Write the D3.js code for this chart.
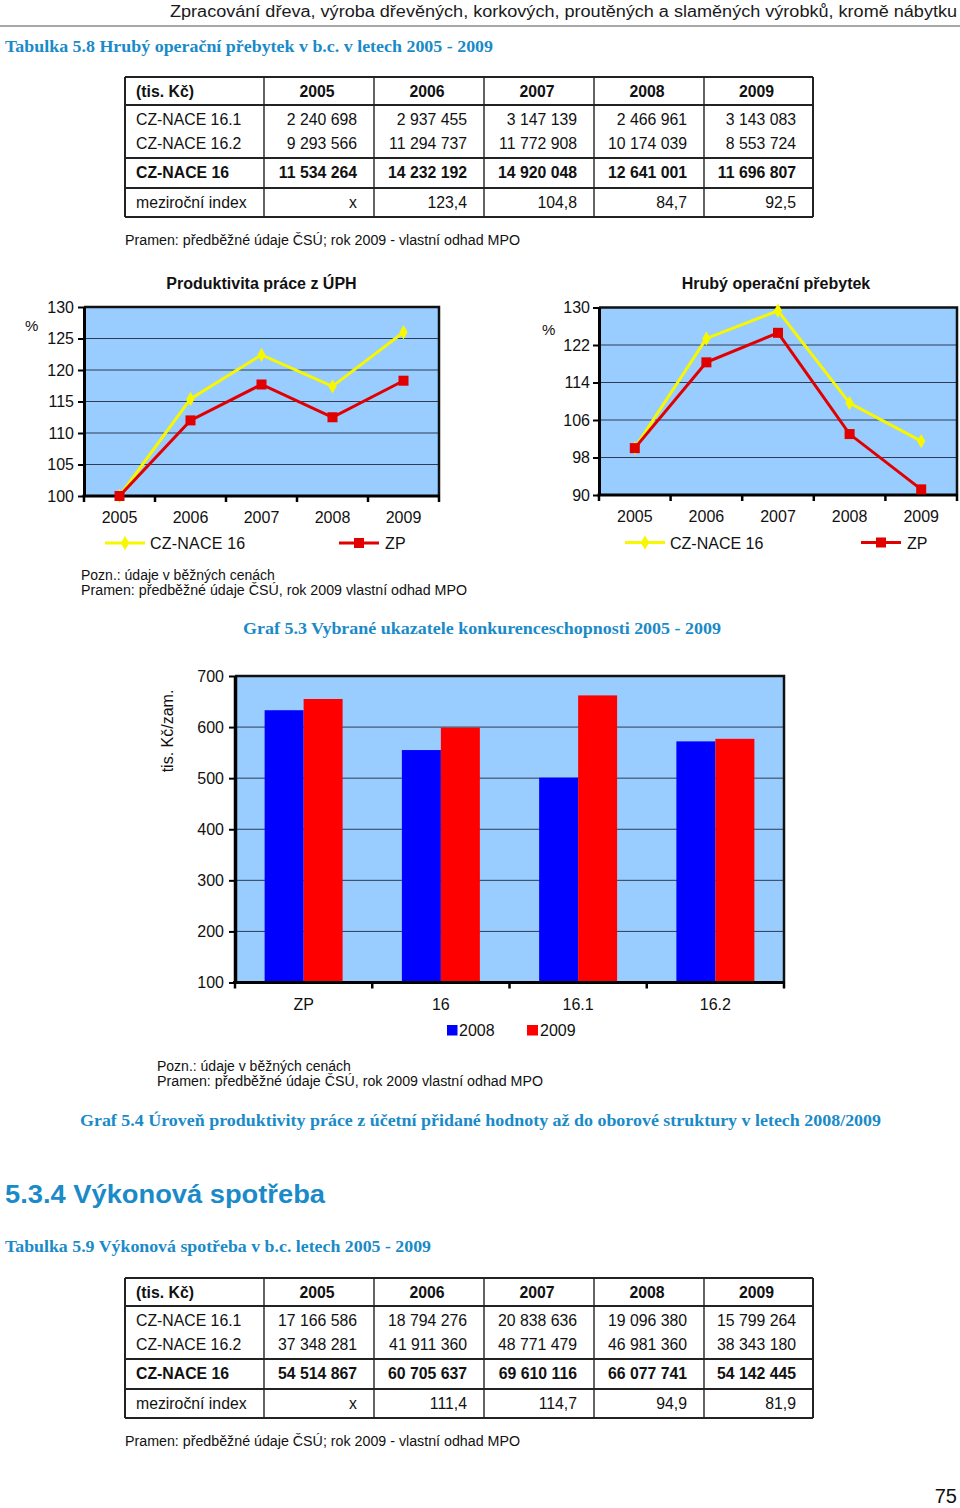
<!DOCTYPE html>
<html><head><meta charset="utf-8">
<script src="https://cdn.jsdelivr.net/npm/d3@7"></script>
<style>body{margin:0;background:#fff}svg{display:block}</style>
</head><body><svg id="c" width="960" height="1508"></svg>
<script>
// ---------- DATA ----------
const years = ["2005","2006","2007","2008","2009"];
const rowLabels = ["CZ-NACE 16.1","CZ-NACE 16.2","CZ-NACE 16","meziroční index"];
const t1_161 = ["2 240 698","2 937 455","3 147 139","2 466 961","3 143 083"];
const t1_162 = ["9 293 566","11 294 737","11 772 908","10 174 039","8 553 724"];
const t1_16  = ["11 534 264","14 232 192","14 920 048","12 641 001","11 696 807"];
const t1_idx = ["x","123,4","104,8","84,7","92,5"];
const t2_161 = ["17 166 586","18 794 276","20 838 636","19 096 380","15 799 264"];
const t2_162 = ["37 348 281","41 911 360","48 771 479","46 981 360","38 343 180"];
const t2_16  = ["54 514 867","60 705 637","69 610 116","66 077 741","54 142 445"];
const t2_idx = ["x","111,4","114,7","94,9","81,9"];

const prodNace = [100, 115.4, 122.4, 117.4, 126.0];
const prodZP   = [100, 112.0, 117.7, 112.5, 118.3];
const prodTicks = [100,105,110,115,120,125,130];
const hopNace = [100, 123.4, 129.3, 109.6, 101.5];
const hopZP   = [100, 118.3, 124.6, 103.0, 91.2];
const hopTicks = [90,98,106,114,122,130];
const seriesNames = ["CZ-NACE 16","ZP"];

const barCats = ["ZP","16","16.1","16.2"];
const barYears = ["2008","2009"];
const bar2008 = [633, 555, 501, 572];
const bar2009 = [655, 599, 662, 577];
const barTicks = [100,200,300,400,500,600,700];

// ---------- STYLE ----------
const SANS = "'Liberation Sans', Arial, Helvetica, sans-serif";
const SERIF = "'Liberation Serif', 'Times New Roman', serif";
const TEAL = "#1a8ac8";
const PLOTBG = "#99ccff";
const GRID = "#2e3c55";
const YEL = "#f7f700";
const RED = "#e00000";
const FS = 16;   // chart text size
const TS = 15.8; // table text size

const svg = d3.select("#c");

function txt(x, y, s, o = {}) {
  const t = svg.append("text").attr("x", x).attr("y", y).text(s)
    .attr("font-family", o.family || SANS)
    .attr("font-size", o.size || 14)
    .attr("fill", o.fill || "#111")
    .attr("text-anchor", o.anchor || "start");
  if (o.weight) t.attr("font-weight", o.weight);
  if (o.len) t.attr("textLength", o.len).attr("lengthAdjust", "spacingAndGlyphs");
  if (o.ls) t.attr("letter-spacing", o.ls);
  return t;
}

// ---------- HEADER ----------
txt(957, 17, "Zpracování dřeva, výroba dřevěných, korkových, proutěných a slaměných výrobků, kromě nábytku",
  {size: 16, anchor: "end", len: 787, fill: "#1a1a1a"});
svg.append("line").attr("x1", 0).attr("x2", 960).attr("y1", 26).attr("y2", 26)
  .attr("stroke", "#8a8a8a").attr("stroke-width", 1.6);

txt(5, 52, "Tabulka 5.8 Hrubý operační přebytek v b.c. v letech 2005 - 2009",
  {family: SERIF, size: 17, weight: "bold", fill: TEAL, len: 488});

// ---------- TABLES ----------
const colX = [125, 264, 374, 484, 594, 704, 813];
function drawTable(top, r161, r162, r16, ridx) {
  const rows = [0, 28, 81, 111, 140];
  const g = svg.append("g");
  rows.forEach(r => g.append("line").attr("x1", colX[0]).attr("x2", colX[6])
    .attr("y1", top + r).attr("y2", top + r).attr("stroke", "#222").attr("stroke-width", 2));
  colX.forEach((c, i) => g.append("line").attr("x1", c).attr("x2", c)
    .attr("y1", top).attr("y2", top + 140).attr("stroke", "#222")
    .attr("stroke-width", (i === 0 || i === 6) ? 2 : 1.4));
  const lx = 136;
  txt(lx, top + 20, "(tis. Kč)", {weight: "bold", size: TS});
  txt(lx, top + 48, rowLabels[0], {size: TS});
  txt(lx, top + 72, rowLabels[1], {size: TS});
  txt(lx, top + 101, rowLabels[2], {size: TS, weight: "bold"});
  txt(lx, top + 131, rowLabels[3], {size: TS});
  years.forEach((y, i) => {
    const cx = (colX[i + 1] + colX[i + 2]) / 2 - 2;
    const rx = colX[i + 2] - 17;
    txt(cx, top + 20, y, {anchor: "middle", weight: "bold", size: TS});
    txt(rx, top + 48, r161[i], {anchor: "end", size: TS});
    txt(rx, top + 72, r162[i], {anchor: "end", size: TS});
    txt(rx, top + 101, r16[i], {anchor: "end", size: TS, weight: "bold"});
    txt(rx, top + 131, ridx[i], {anchor: "end", size: TS});
  });
}
drawTable(77, t1_161, t1_162, t1_16, t1_idx);
txt(125, 245, "Pramen: předběžné údaje ČSÚ; rok 2009 - vlastní odhad MPO", {size: 14, len: 395});

// ---------- LINE CHARTS ----------
function lineChart(o) {
  const x = d3.scaleBand().domain(years).range([o.x0, o.x1]).padding(0);
  const y = d3.scaleLinear().domain(o.domain).range([o.y1, o.y0]);
  const g = svg.append("g");
  g.append("rect").attr("x", o.x0).attr("y", o.y0).attr("width", o.x1 - o.x0).attr("height", o.y1 - o.y0)
    .attr("fill", PLOTBG);
  g.selectAll(".gl").data(o.ticks.slice(1, -1)).join("line")
    .attr("x1", o.x0).attr("x2", o.x1).attr("y1", d => y(d)).attr("y2", d => y(d))
    .attr("stroke", GRID).attr("stroke-width", 1);
  g.append("path").attr("d", `M${o.x0},${o.y0}H${o.x1}V${o.y1}`).attr("fill", "none")
    .attr("stroke", "#111").attr("stroke-width", 2.5);
  const ya = g.append("g").attr("transform", `translate(${o.x0},0)`)
    .call(d3.axisLeft(y).tickValues(o.ticks).tickSize(6).tickPadding(o.pad).tickSizeOuter(0));
  ya.select(".domain").attr("stroke", "#000").attr("stroke-width", 3);
  ya.selectAll(".tick line").attr("stroke", "#000").attr("stroke-width", 2);
  ya.selectAll(".tick text").attr("font-family", SANS).attr("font-size", FS).attr("fill", "#111");
  g.append("line").attr("x1", o.x0 - 1.5).attr("x2", o.x1 + 1).attr("y1", o.y1).attr("y2", o.y1)
    .attr("stroke", "#000").attr("stroke-width", 3);
  const edges = years.map(d => x(d)).concat([o.x1]);
  g.selectAll(".xt").data(edges).join("line")
    .attr("x1", d => d).attr("x2", d => d).attr("y1", o.y1).attr("y2", o.y1 + 6)
    .attr("stroke", "#000").attr("stroke-width", 2.5);
  years.forEach(d => txt(x(d) + x.bandwidth() / 2, o.xlabY, d, {anchor: "middle", size: FS}));
  const cx = (d, i) => x(years[i]) + x.bandwidth() / 2;
  const line = d3.line().x(cx).y(d => y(d));
  g.append("path").datum(o.nace).attr("d", line).attr("fill", "none").attr("stroke", YEL).attr("stroke-width", 3);
  g.append("path").datum(o.zp).attr("d", line).attr("fill", "none").attr("stroke", RED).attr("stroke-width", 3);
  const dia = d3.symbol().type(d3.symbolDiamond).size(60);
  g.selectAll(".dm").data(o.nace).join("path")
    .attr("d", dia).attr("transform", (d, i) => `translate(${cx(d, i)},${y(d)})`).attr("fill", YEL);
  g.selectAll(".sq").data(o.zp).join("rect")
    .attr("x", (d, i) => cx(d, i) - 5).attr("y", d => y(d) - 5).attr("width", 10).attr("height", 10)
    .attr("fill", RED);
  txt((o.x0 + o.x1) / 2 + o.titleDx, 289, o.title, {anchor: "middle", weight: "bold", size: FS});
  txt(o.pctX, o.pctY, "%", {size: 15});
  const ly = o.legY;
  g.append("line").attr("x1", o.l1[0]).attr("x2", o.l1[1]).attr("y1", ly).attr("y2", ly)
    .attr("stroke", YEL).attr("stroke-width", 3);
  g.append("path").attr("d", dia).attr("transform", `translate(${(o.l1[0] + o.l1[1]) / 2},${ly})`).attr("fill", YEL);
  txt(o.l1[1] + 5, ly + 6, seriesNames[0], {size: FS, ls: o.ls});
  g.append("line").attr("x1", o.l2[0]).attr("x2", o.l2[1]).attr("y1", ly).attr("y2", ly)
    .attr("stroke", RED).attr("stroke-width", 3);
  g.append("rect").attr("x", (o.l2[0] + o.l2[1]) / 2 - 5).attr("y", ly - 5).attr("width", 10).attr("height", 10).attr("fill", RED);
  txt(o.l2[1] + 6, ly + 6, seriesNames[1], {size: FS, ls: o.ls});
}

lineChart({x0: 84, x1: 439, y0: 307, y1: 496, domain: [100, 130], ticks: prodTicks, pad: 4,
  nace: prodNace, zp: prodZP, title: "Produktivita práce z ÚPH", titleDx: 0,
  pctX: 25, pctY: 331, xlabY: 523, legY: 543, l1: [105, 145], l2: [339, 379], ls: 0.2});
lineChart({x0: 599, x1: 957, y0: 307.5, y1: 495, domain: [90, 130], ticks: hopTicks, pad: 3,
  nace: hopNace, zp: hopZP, title: "Hrubý operační přebytek", titleDx: -2,
  pctX: 542, pctY: 335, xlabY: 522, legY: 542.5, l1: [625, 665], l2: [861, 901], ls: 0});

txt(81, 580, "Pozn.: údaje v běžných cenách", {size: 14});
txt(81, 595, "Pramen: předběžné údaje ČSÚ, rok 2009 vlastní odhad MPO", {size: 14, len: 386});

txt(243, 634, "Graf 5.3 Vybrané ukazatele konkurenceschopnosti 2005 - 2009",
  {family: SERIF, size: 17, weight: "bold", fill: TEAL, len: 478});

// ---------- BAR CHART ----------
(function () {
  const x0 = 235, x1 = 784, y0 = 676, y1 = 982.5;
  const x = d3.scaleBand().domain(barCats).range([x0, x1]).padding(0);
  const xi = d3.scaleBand().domain(barYears).range([0, x.bandwidth()]).paddingInner(0).paddingOuter(0.76);
  const y = d3.scaleLinear().domain([100, 700]).range([y1, y0]);
  const g = svg.append("g");
  g.append("rect").attr("x", x0).attr("y", y0).attr("width", x1 - x0).attr("height", y1 - y0).attr("fill", PLOTBG);
  g.selectAll(".gl").data(barTicks.slice(1, -1)).join("line")
    .attr("x1", x0).attr("x2", x1).attr("y1", d => y(d)).attr("y2", d => y(d))
    .attr("stroke", GRID).attr("stroke-width", 1);
  const vals = {"2008": bar2008, "2009": bar2009};
  const cols = {"2008": "#0000ff", "2009": "#ff0000"};
  barYears.forEach(yr => {
    g.selectAll(".b" + yr).data(vals[yr]).join("rect")
      .attr("x", (d, i) => x(barCats[i]) + xi(yr))
      .attr("y", d => y(d)).attr("width", xi.bandwidth()).attr("height", d => y1 - y(d))
      .attr("fill", cols[yr]);
  });
  g.append("path").attr("d", `M${x0},${y0}H${x1}V${y1}`).attr("fill", "none").attr("stroke", "#111").attr("stroke-width", 2.5);
  const ya = g.append("g").attr("transform", `translate(${x0},0)`)
    .call(d3.axisLeft(y).tickValues(barTicks).tickSize(6).tickPadding(5).tickSizeOuter(0));
  ya.select(".domain").attr("stroke", "#000").attr("stroke-width", 3.5);
  ya.selectAll(".tick line").attr("stroke", "#000").attr("stroke-width", 2);
  ya.selectAll(".tick text").attr("font-family", SANS).attr("font-size", FS).attr("fill", "#111");
  g.append("line").attr("x1", x0 - 2).attr("x2", x1 + 1).attr("y1", y1).attr("y2", y1)
    .attr("stroke", "#000").attr("stroke-width", 3);
  const edges = barCats.map(d => x(d)).concat([x1]);
  g.selectAll(".xt").data(edges).join("line")
    .attr("x1", d => d).attr("x2", d => d).attr("y1", y1).attr("y2", y1 + 6)
    .attr("stroke", "#000").attr("stroke-width", 2.5);
  barCats.forEach(c => txt(x(c) + x.bandwidth() / 2, 1010, c, {anchor: "middle", size: FS}));
  svg.append("text").attr("transform", "translate(173,731) rotate(-90)").attr("text-anchor", "middle")
    .attr("font-family", SANS).attr("font-size", FS).attr("fill", "#111").text("tis. Kč/zam.");
  g.append("rect").attr("x", 447).attr("y", 1025).attr("width", 10.5).attr("height", 10.5).attr("fill", cols["2008"]);
  txt(459, 1035.5, barYears[0], {size: FS});
  g.append("rect").attr("x", 527).attr("y", 1025).attr("width", 11).attr("height", 10.5).attr("fill", cols["2009"]);
  txt(540, 1035.5, barYears[1], {size: FS});
})();

txt(157, 1071, "Pozn.: údaje v běžných cenách", {size: 14});
txt(157, 1086, "Pramen: předběžné údaje ČSÚ, rok 2009 vlastní odhad MPO", {size: 14, len: 386});

txt(80, 1126, "Graf 5.4 Úroveň produktivity práce z účetní přidané hodnoty až do oborové struktury v letech 2008/2009",
  {family: SERIF, size: 17, weight: "bold", fill: TEAL, len: 801});

txt(5, 1203, "5.3.4 Výkonová spotřeba", {size: 26, weight: "bold", fill: TEAL, len: 320});

txt(5, 1252, "Tabulka 5.9 Výkonová spotřeba v b.c. letech 2005 - 2009",
  {family: SERIF, size: 17, weight: "bold", fill: TEAL, len: 426});

drawTable(1278, t2_161, t2_162, t2_16, t2_idx);
txt(125, 1446, "Pramen: předběžné údaje ČSÚ; rok 2009 - vlastní odhad MPO", {size: 14, len: 395});

txt(957, 1503, "75", {size: 20, anchor: "end"});
</script></body></html>
